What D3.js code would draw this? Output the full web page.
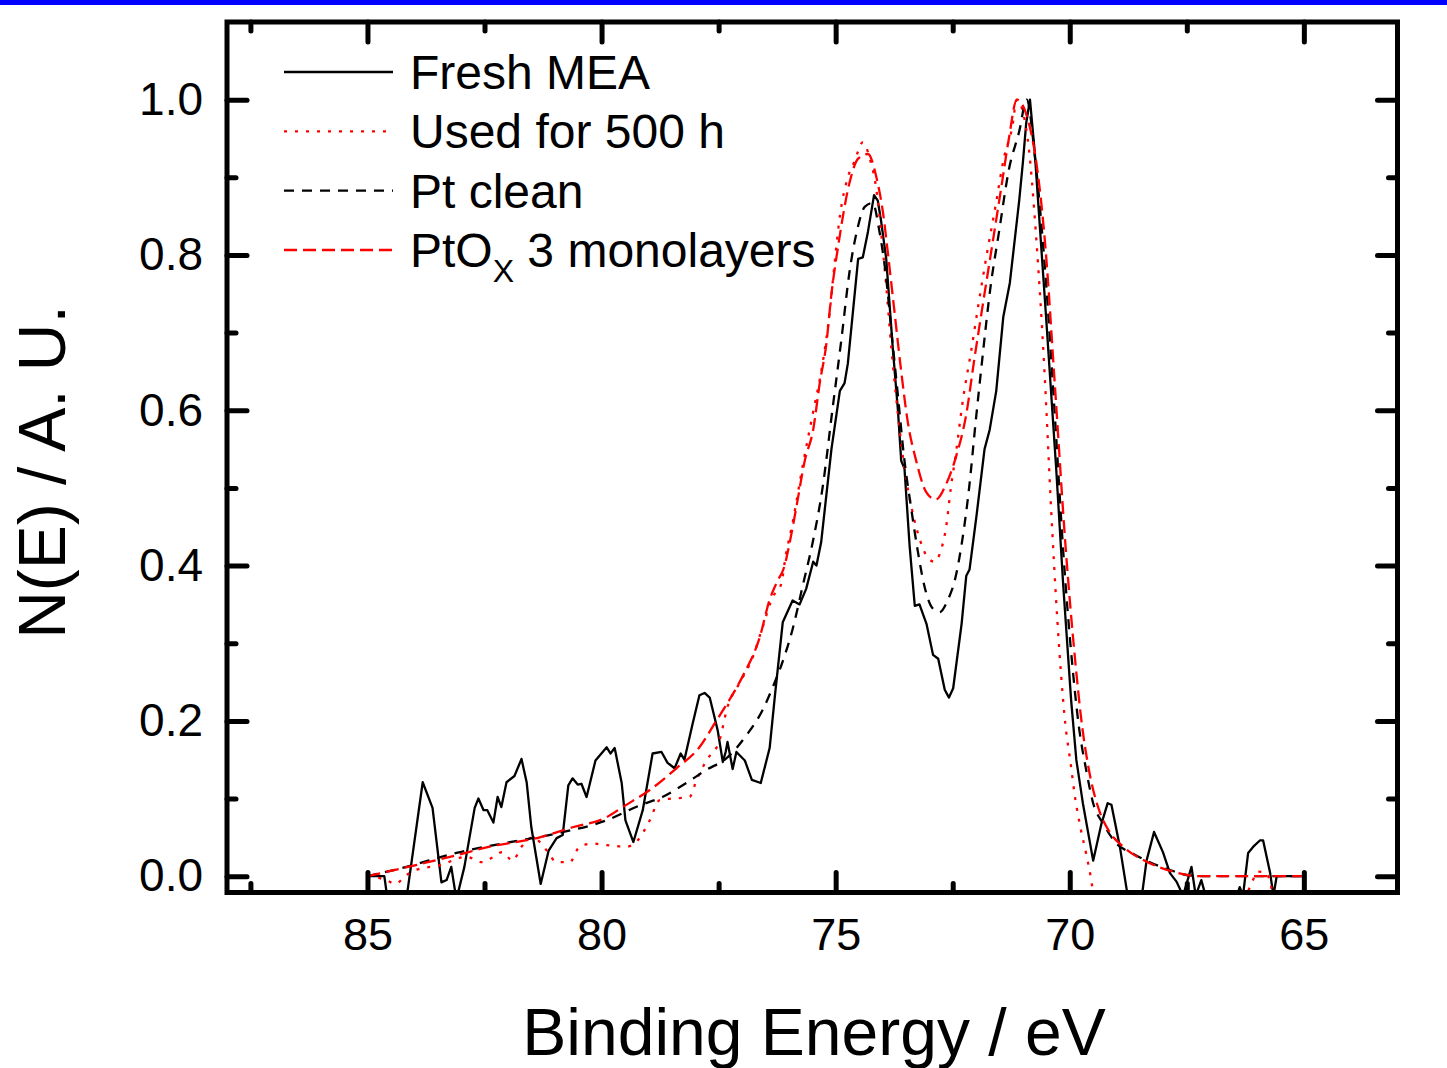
<!DOCTYPE html>
<html>
<head>
<meta charset="utf-8">
<script src="https://cdn.jsdelivr.net/npm/d3@7"></script>
<style>
  html, body { margin: 0; padding: 0; background: #fff; }
  svg { display: block; }
  text { font-family: 'Liberation Sans', Arial, sans-serif; fill: #000; }
</style>
</head>
<body>
<svg id="chart" width="1447" height="1068"></svg>
<script>
// ---------- data (binding energy eV, normalised intensity) ----------
const freshMEA = [
 [85.0,0.0],[84.64,0.0],[84.57,-0.03],[84.17,-0.03],[83.82,0.121],[83.61,0.088],[83.42,-0.008],
 [83.31,-0.005],[83.21,0.012],[83.10,-0.03],[82.93,0.012],[82.71,0.088],[82.63,0.100],[82.52,0.085],
 [82.44,0.085],[82.31,0.069],[82.22,0.102],[82.14,0.089],[82.03,0.121],[81.86,0.129],[81.71,0.151],
 [81.60,0.121],[81.50,0.063],[81.30,-0.01],[81.13,0.033],[80.96,0.049],[80.83,0.053],[80.71,0.117],
 [80.62,0.126],[80.51,0.118],[80.43,0.119],[80.32,0.102],[80.13,0.149],[79.89,0.166],[79.81,0.158],
 [79.72,0.165],[79.57,0.12],[79.49,0.072],[79.32,0.044],[79.12,0.085],[78.91,0.158],[78.72,0.160],
 [78.59,0.146],[78.44,0.139],[78.31,0.158],[78.23,0.150],[78.06,0.195],[77.91,0.233],[77.80,0.236],
 [77.69,0.230],[77.52,0.188],[77.41,0.147],[77.35,0.160],[77.31,0.173],[77.20,0.138],[77.12,0.160],
 [76.94,0.149],[76.79,0.124],[76.60,0.120],[76.41,0.165],[76.30,0.231],[76.13,0.327],[75.92,0.355],
 [75.77,0.35],[75.63,0.37],[75.48,0.405],[75.41,0.40],[75.31,0.43],[75.09,0.55],[74.91,0.625],
 [74.81,0.635],[74.74,0.66],[74.52,0.795],[74.42,0.797],[74.31,0.83],[74.18,0.877],[74.10,0.87],
 [74.03,0.844],[73.92,0.795],[73.78,0.68],[73.67,0.60],[73.60,0.535],[73.53,0.525],[73.42,0.425],
 [73.31,0.348],[73.21,0.35],[73.06,0.325],[72.92,0.285],[72.81,0.28],[72.67,0.24],[72.58,0.23],
 [72.49,0.242],[72.31,0.325],[72.21,0.387],[72.14,0.395],[71.99,0.465],[71.82,0.55],[71.71,0.575],
 [71.57,0.625],[71.42,0.72],[71.28,0.764],[71.08,0.87],[71.00,0.92],[70.93,0.97],[70.85,1.0],
 [70.75,0.934],[70.50,0.715],[70.29,0.525],[70.14,0.375],[69.97,0.226],[69.86,0.15],[69.72,0.094],
 [69.50,0.02],[69.33,0.066],[69.19,0.094],[69.11,0.092],[68.93,0.038],[68.75,-0.03],[68.47,-0.03],
 [68.36,0.02],[68.20,0.057],[68.01,0.031],[67.86,0.004],[67.72,-0.007],[67.58,-0.025],[67.40,0.012],
 [67.31,-0.025],[67.19,-0.005],[67.10,-0.025],[66.43,-0.025],[66.37,-0.014],[66.30,-0.025],
 [66.19,0.03],[66.08,0.038],[65.94,0.046],[65.87,0.046],[65.72,0.004],[65.65,-0.025],[65.58,0.0],[65.0,0.0]
];
const used500h = [
 [85.0,0.0],[84.6,-0.005],[84.4,-0.01],[84.2,0.0],[83.97,0.008],[83.46,0.014],[82.88,0.025],
 [82.56,0.018],[82.33,0.024],[82.12,0.031],[81.90,0.02],[81.71,0.038],[81.47,0.05],[81.17,0.033],
 [80.96,0.018],[80.68,0.018],[80.47,0.038],[80.19,0.042],[79.89,0.04],[79.47,0.038],[79.23,0.046],
 [78.97,0.072],[78.76,0.098],[78.48,0.10],[78.12,0.102],[77.97,0.124],[77.76,0.149],[77.48,0.175],
 [77.31,0.218],[77.05,0.249],[76.77,0.282],[76.56,0.321],[76.34,0.36],[76.17,0.375],[76.06,0.415],
 [75.92,0.455],[75.70,0.53],[75.49,0.595],[75.28,0.66],[75.13,0.725],[75.03,0.785],[74.91,0.85],
 [74.74,0.90],[74.60,0.92],[74.42,0.945],[74.27,0.924],[74.13,0.884],[74.03,0.83],[73.92,0.76],
 [73.81,0.68],[73.67,0.595],[73.53,0.525],[73.38,0.475],[73.21,0.435],[73.03,0.41],[72.89,0.405],
 [72.75,0.42],[72.64,0.45],[72.54,0.50],[72.43,0.545],[72.29,0.61],[72.11,0.675],[71.94,0.74],
 [71.76,0.805],[71.58,0.865],[71.41,0.924],[71.23,0.964],[71.13,1.0],[70.90,0.95],[70.72,0.825],
 [70.54,0.65],[70.40,0.475],[70.26,0.325],[70.11,0.205],[69.97,0.14],[69.90,0.107],[69.79,0.068],
 [69.65,0.029],[69.54,-0.005],[69.45,-0.04],[66.4,-0.04],[66.15,-0.014],[65.98,0.006],[65.80,0.004],
 [65.73,-0.005],[65.6,-0.04],[65.0,-0.04]
];
const ptClean = [
 [85.0,0.0],[84.17,0.012],[83.10,0.030],[82.03,0.043],[80.96,0.055],[79.89,0.072],[79.19,0.091],
 [78.70,0.102],[78.19,0.120],[77.76,0.137],[77.33,0.152],[76.90,0.182],[76.56,0.214],[76.34,0.244],
 [76.17,0.27],[75.92,0.318],[75.70,0.375],[75.49,0.43],[75.28,0.50],[75.06,0.605],[74.88,0.69],
 [74.70,0.78],[74.53,0.835],[74.38,0.862],[74.21,0.867],[74.07,0.832],[73.93,0.775],[73.79,0.69],
 [73.68,0.625],[73.53,0.535],[73.39,0.475],[73.25,0.42],[73.11,0.375],[72.93,0.345],[72.78,0.34],
 [72.61,0.355],[72.44,0.385],[72.29,0.435],[72.15,0.50],[72.01,0.585],[71.87,0.665],[71.69,0.76],
 [71.51,0.83],[71.30,0.91],[71.08,0.959],[70.92,1.0],[70.74,0.924],[70.52,0.775],[70.31,0.585],
 [70.13,0.41],[69.95,0.275],[69.81,0.195],[69.65,0.137],[69.50,0.094],[69.29,0.068],[69.00,0.042],
 [68.65,0.029],[68.29,0.018],[67.86,0.008],[67.44,0.001],[67.08,0.0],[65.0,0.0]
];
const ptOx3 = [
 [85.0,0.0],[83.78,0.017],[83.10,0.027],[82.39,0.038],[81.32,0.05],[80.62,0.063],[79.89,0.076],
 [79.55,0.089],[78.97,0.111],[78.40,0.139],[77.91,0.166],[77.54,0.201],[77.31,0.223],[76.99,0.257],
 [76.62,0.308],[76.41,0.356],[76.26,0.378],[76.09,0.40],[75.98,0.43],[75.84,0.475],[75.66,0.535],
 [75.48,0.575],[75.34,0.635],[75.20,0.685],[75.09,0.75],[74.95,0.81],[74.70,0.894],[74.52,0.924],
 [74.31,0.93],[74.13,0.90],[73.99,0.855],[73.88,0.80],[73.74,0.725],[73.60,0.65],[73.46,0.585],
 [73.28,0.535],[73.07,0.495],[72.86,0.485],[72.64,0.505],[72.43,0.54],[72.21,0.595],[72.04,0.665],
 [71.86,0.735],[71.65,0.815],[71.47,0.884],[71.30,0.95],[71.13,1.0],[70.80,0.95],[70.52,0.81],
 [70.31,0.625],[70.09,0.425],[69.88,0.275],[69.74,0.195],[69.60,0.14],[69.35,0.081],[69.17,0.059],
 [68.82,0.036],[68.4,0.02],[67.8,0.006],[67.2,0.0],[65.0,0.0]
];

const seriesNames = ["Fresh MEA", "Used for 500 h", "Pt clean", "PtOx 3 monolayers"];
const xMajorTicks = [85, 80, 75, 70, 65];
const xMinorTicks = [87.5, 82.5, 77.5, 72.5, 67.5];
const yMajorTicks = [0, 0.2, 0.4, 0.6, 0.8, 1.0];
const yMinorTicks = [0.1, 0.3, 0.5, 0.7, 0.9];
const yTickLabels = ["0.0", "0.2", "0.4", "0.6", "0.8", "1.0"];
const xTitle = "Binding Energy / eV";
const yTitle = "N(E) / A. U.";

// ---------- layout ----------
const svg = d3.select("#chart");
const W = 1447, H = 1068;
const L = 227, R = 1397.5, T = 22, B = 892.5;

svg.append("rect").attr("x", 0).attr("y", 0).attr("width", W).attr("height", H).attr("fill", "#fff");
svg.append("rect").attr("x", 0).attr("y", 0).attr("width", W).attr("height", 5).attr("fill", "#0000ff");

const x = d3.scaleLinear().domain([88, 63]).range([L, R]);
const y = d3.scaleLinear().domain([-0.021, 1.1]).range([B, T]);

svg.append("defs").append("clipPath").attr("id", "plotclip")
  .append("rect").attr("x", L).attr("y", T).attr("width", R - L).attr("height", B - T);

const styles = [
  { color: "#000000", dash: null, curve: d3.curveLinear },
  { color: "#ff0000", dash: "3,8", curve: d3.curveMonotoneX },
  { color: "#000000", dash: "10,8", curve: d3.curveMonotoneX },
  { color: "#ff0000", dash: "13,6", curve: d3.curveMonotoneX }
];
const allSeries = [freshMEA, used500h, ptClean, ptOx3];

const gData = svg.append("g").attr("clip-path", "url(#plotclip)");
allSeries.forEach((data, i) => {
  const line = d3.line().x(d => x(d[0])).y(d => y(d[1])).curve(styles[i].curve);
  gData.append("path")
    .attr("d", line(data))
    .attr("fill", "none")
    .attr("stroke", styles[i].color)
    .attr("stroke-width", 2.3)
    .attr("stroke-dasharray", styles[i].dash)
    .attr("stroke-linejoin", "round");
});

// ---------- axes (ticks inward on all sides) ----------
function styleAxis(g) {
  g.select(".domain").remove();
  g.selectAll(".tick line").attr("stroke", "#000").attr("stroke-width", 5).attr("stroke-linecap", "round");
}
const fmtY = d => yTickLabels[yMajorTicks.indexOf(d)];

// bottom
svg.append("g").attr("transform", `translate(0,${B})`)
  .call(d3.axisBottom(x).tickValues(xMajorTicks).tickSize(-20).tickPadding(26).tickFormat(d3.format("d")))
  .call(styleAxis)
  .call(g => g.selectAll("text").attr("font-size", 45).attr("font-family", "'Liberation Sans', Arial, sans-serif").attr("fill", "#000"));
svg.append("g").attr("transform", `translate(0,${B})`)
  .call(d3.axisBottom(x).tickValues(xMinorTicks).tickSize(-9).tickFormat(""))
  .call(styleAxis);
// top
svg.append("g").attr("transform", `translate(0,${T})`)
  .call(d3.axisTop(x).tickValues(xMajorTicks).tickSize(-20).tickFormat(""))
  .call(styleAxis);
svg.append("g").attr("transform", `translate(0,${T})`)
  .call(d3.axisTop(x).tickValues(xMinorTicks).tickSize(-9).tickFormat(""))
  .call(styleAxis);
// left
svg.append("g").attr("transform", `translate(${L},0)`)
  .call(d3.axisLeft(y).tickValues(yMajorTicks).tickSize(-20).tickPadding(24).tickFormat(fmtY))
  .call(styleAxis)
  .call(g => g.selectAll("text").attr("font-size", 46).attr("font-family", "'Liberation Sans', Arial, sans-serif").attr("fill", "#000"));
svg.append("g").attr("transform", `translate(${L},0)`)
  .call(d3.axisLeft(y).tickValues(yMinorTicks).tickSize(-9).tickFormat(""))
  .call(styleAxis);
// right
svg.append("g").attr("transform", `translate(${R},0)`)
  .call(d3.axisRight(y).tickValues(yMajorTicks).tickSize(-20).tickFormat(""))
  .call(styleAxis);
svg.append("g").attr("transform", `translate(${R},0)`)
  .call(d3.axisRight(y).tickValues(yMinorTicks).tickSize(-9).tickFormat(""))
  .call(styleAxis);

// frame
svg.append("rect").attr("x", L).attr("y", T).attr("width", R - L).attr("height", B - T)
  .attr("fill", "none").attr("stroke", "#000").attr("stroke-width", 5);

// ---------- titles ----------
svg.append("text").attr("x", 814).attr("y", 1055).attr("text-anchor", "middle")
  .attr("font-size", 66).text(xTitle);
svg.append("text").attr("transform", "translate(65,472) rotate(-90)").attr("text-anchor", "middle")
  .attr("font-size", 66).text(yTitle);

// ---------- legend ----------
const legend = svg.append("g");
const rowY = [72, 131.3, 190.7, 250];
seriesNames.forEach((name, i) => {
  legend.append("line")
    .attr("x1", 284).attr("x2", 393).attr("y1", rowY[i]).attr("y2", rowY[i])
    .attr("stroke", styles[i].color).attr("stroke-width", 2.3)
    .attr("stroke-dasharray", styles[i].dash);
  const t = legend.append("text").attr("x", 410).attr("y", rowY[i] + 17).attr("font-size", 48);
  if (name.startsWith("PtOx")) {
    t.append("tspan").text("PtO");
    t.append("tspan").attr("font-size", 32).attr("dy", 15).text("X");
    t.append("tspan").attr("dy", -15).text(" 3 monolayers");
  } else {
    t.text(name);
  }
});
</script>
</body>
</html>
